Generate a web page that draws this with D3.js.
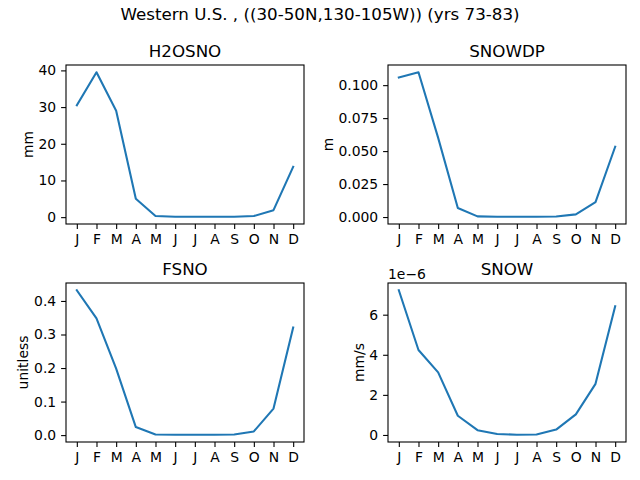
<!DOCTYPE html>
<html lang="en">
<head>
<meta charset="utf-8"/>
<title>Western U.S. snow climatology</title>
<script src="https://cdn.jsdelivr.net/npm/d3@7/dist/d3.min.js"></script>
<style>
  html, body { margin: 0; padding: 0; background: #fff; }
  svg { display: block; font-family: "DejaVu Sans", sans-serif; }
</style>
</head>
<body>
<div id="chart"></div>
<script>
// month labels along every x axis
const months = ["J", "F", "M", "A", "M", "J", "J", "A", "S", "O", "N", "D"];

// monthly means
const h2osno = [30.5, 39.5, 29.0, 5.0, 0.3, 0.1, 0.1, 0.1, 0.1, 0.3, 1.9, 13.7];
const snowdp = [0.1058, 0.1098, 0.0600, 0.0068, 0.0005, 0.0002, 0.0002, 0.0002, 0.0004, 0.0020, 0.0113, 0.0533];
const fsno = [0.432, 0.348, 0.198, 0.024, 0.002, 0.001, 0.001, 0.001, 0.002, 0.011, 0.079, 0.321];
const snow = [7.22e-6, 4.24e-6, 3.12e-6, 0.96e-6, 0.24e-6, 0.05e-6, 0.01e-6, 0.02e-6, 0.27e-6, 1.03e-6, 2.55e-6, 6.42e-6];

// tick values and their labels
const h2osnoTicks = [0, 10, 20, 30, 40];
const h2osnoTickLabels = ["0", "10", "20", "30", "40"];
const snowdpTicks = [0, 0.025, 0.05, 0.075, 0.1];
const snowdpTickLabels = ["0.000", "0.025", "0.050", "0.075", "0.100"];
const fsnoTicks = [0, 0.1, 0.2, 0.3, 0.4];
const fsnoTickLabels = ["0.0", "0.1", "0.2", "0.3", "0.4"];
const snowTicks = [0, 2e-6, 4e-6, 6e-6];
const snowTickLabels = ["0", "2", "4", "6"];

const title = "Western U.S. , ((30-50N,130-105W)) (yrs 73-83)";

const panels = [
  {name: "H2OSNO", unit: "mm", values: h2osno, ticks: h2osnoTicks, labels: h2osnoTickLabels, x: 66, y: 65},
  {name: "SNOWDP", unit: "m", values: snowdp, ticks: snowdpTicks, labels: snowdpTickLabels, x: 388, y: 65},
  {name: "FSNO", unit: "unitless", values: fsno, ticks: fsnoTicks, labels: fsnoTickLabels, x: 66, y: 283},
  {name: "SNOW", unit: "mm/s", values: snow, ticks: snowTicks, labels: snowTickLabels, x: 388, y: 283, offset: "1e\u22126"}
];

const W = 640, H = 480;
const pw = 238, ph = 159;
const tickFont = "13.9px", titleFont = "16.7px";

const svg = d3.select("#chart").append("svg")
  .attr("width", W).attr("height", H);

svg.append("text")
  .attr("x", W / 2).attr("y", 20)
  .attr("text-anchor", "middle")
  .style("font-size", titleFont)
  .text(title);

// matplotlib style 5% margins
function padded(lo, hi) {
  const m = (hi - lo) * 0.05;
  return [lo - m, hi + m];
}

panels.forEach(p => {
  const g = svg.append("g").attr("transform", `translate(${p.x},${p.y})`);

  const x = d3.scaleLinear().domain(padded(0, months.length - 1)).range([0, pw]);
  const y = d3.scaleLinear().domain(padded(d3.min(p.values), d3.max(p.values))).range([ph, 0]);

  const xAxis = g.append("g")
    .attr("transform", `translate(0,${ph})`)
    .call(d3.axisBottom(x)
      .tickValues(d3.range(months.length))
      .tickFormat(i => months[i])
      .tickSizeInner(4.9).tickSizeOuter(0).tickPadding(4.9));

  const yAxis = g.append("g")
    .call(d3.axisLeft(y)
      .tickValues(p.ticks)
      .tickFormat((d, i) => p.labels[i])
      .tickSizeInner(4.9).tickSizeOuter(0).tickPadding(4.9));

  [xAxis, yAxis].forEach(a => {
    a.select(".domain").remove();
    a.selectAll("line").attr("stroke", "#000").attr("stroke-width", 1.1);
    a.selectAll("text")
      .attr("fill", "#000")
      .style("font-family", "DejaVu Sans, sans-serif")
      .style("font-size", tickFont);
  });

  const line = d3.line()
    .x((d, i) => x(i))
    .y(d => y(d));

  g.append("path")
    .datum(p.values)
    .attr("d", line)
    .attr("fill", "none")
    .attr("stroke", "#1f77b4")
    .attr("stroke-width", 2.08)
    .attr("stroke-linejoin", "round")
    .attr("stroke-linecap", "square");

  // frame
  g.append("rect")
    .attr("width", pw).attr("height", ph)
    .attr("fill", "none")
    .attr("stroke", "#000")
    .attr("stroke-width", 1.1);

  g.append("text")
    .attr("x", pw / 2).attr("y", -8)
    .attr("text-anchor", "middle")
    .style("font-size", titleFont)
    .text(p.name);

  // y label sits just left of the widest tick label
  let maxW = 0;
  yAxis.selectAll("text").each(function () {
    maxW = Math.max(maxW, this.getBBox().width);
  });
  g.append("text")
    .attr("transform", `translate(${-9.8 - maxW - 5.5},${ph / 2}) rotate(-90)`)
    .attr("text-anchor", "middle")
    .style("font-size", tickFont)
    .text(p.unit);

  if (p.offset) {
    g.append("text")
      .attr("x", 0).attr("y", -4)
      .style("font-size", tickFont)
      .text(p.offset);
  }
});
</script>
</body>
</html>
